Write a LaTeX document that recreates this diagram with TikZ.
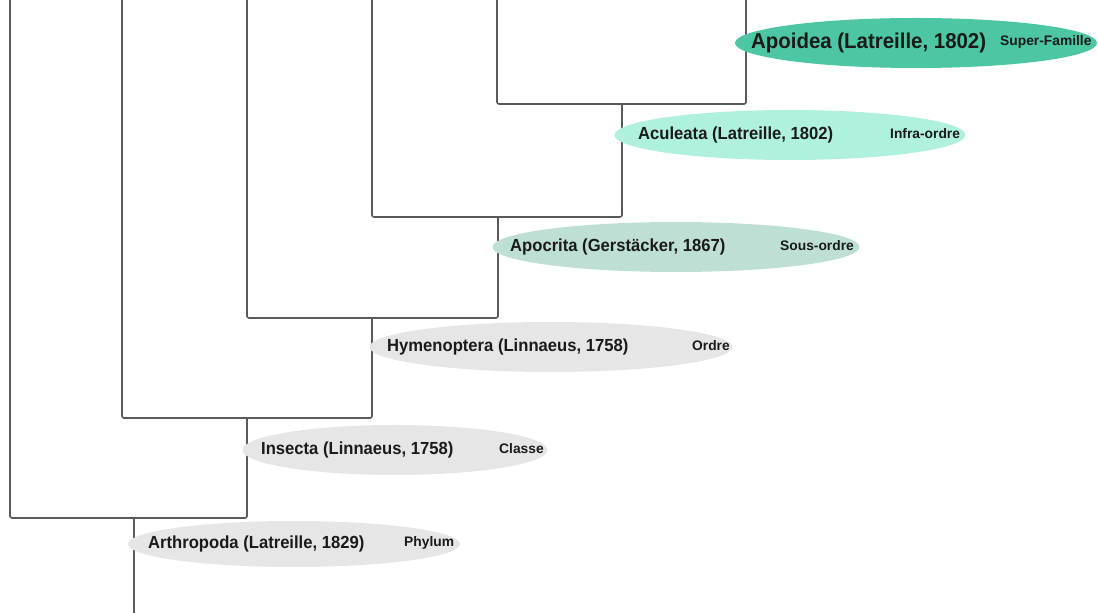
\documentclass[tikz,border=0pt]{standalone}
\usepackage{fontspec}
\setmainfont{Liberation Sans}
\newfontfamily\narrowsans[FakeStretch=0.95]{Liberation Sans}
\usetikzlibrary{shapes.geometric}
\definecolor{treeline}{HTML}{5A5A5A}
\definecolor{cSuper}{HTML}{4CC6A3}
\definecolor{cInfra}{HTML}{B0F0DE}
\definecolor{cSous}{HTML}{BEE0D4}
\definecolor{cGrey}{HTML}{E6E6E6}
\definecolor{txt}{HTML}{1A1A1A}
\tikzset{
  treeline/.style={draw=treeline, line width=1.6pt, rounded corners=2pt},
  taxonblob/.style={ellipse, draw=none, inner sep=0pt, minimum height=50pt},
  taxname/.style={anchor=west, inner sep=0pt, text=txt, font=\narrowsans\bfseries\fontsize{17.5}{21}\selectfont},
  bigtaxname/.style={anchor=west, inner sep=0pt, text=txt, font=\narrowsans\bfseries\fontsize{21.5}{26}\selectfont},
  rankname/.style={anchor=west, inner sep=0pt, text=txt, font=\bfseries\fontsize{13.8}{16}\selectfont},
}
\begin{document}
\begin{tikzpicture}[x=1pt,y=1pt]
\useasboundingbox (0,0) rectangle (1098,613);
% tree coordinates
\coordinate (t0) at (10,613);
\coordinate (t1) at (122,613);
\coordinate (t2) at (247,613);
\coordinate (t3) at (372,613);
\coordinate (t4) at (497,613);
\coordinate (t5) at (746,613);
\coordinate (root) at (134,0);
\coordinate (j1) at (134,95);
\coordinate (j2) at (247,195);
\coordinate (j3) at (372,295);
\coordinate (j4) at (498,396);
\coordinate (j5) at (622,509);
% tree lines
\draw[treeline] (t0) |- (247,95) -- (j2);
\draw[treeline] (j1) -- (root);
\draw[treeline] (t1) |- (372,195) -- (j3);
\draw[treeline] (t2) |- (498,295) -- (j4);
\draw[treeline] (t3) |- (622,396) -- (j5);
\draw[treeline] (t4) |- (746,509) -- (t5);
% taxa
\node[taxonblob, fill=cSuper, minimum width=362pt] (apoidea) at (916,570) {};
\node[taxonblob, fill=cInfra, minimum width=351pt] (aculeata) at (790,478) {};
\node[taxonblob, fill=cSous, minimum width=367pt] (apocrita) at (676,366) {};
\node[taxonblob, fill=cGrey, minimum width=363pt] (hymeno) at (551,266) {};
\node[taxonblob, fill=cGrey, minimum width=305pt] (insecta) at (395,163) {};
\node[taxonblob, fill=cGrey, minimum width=332pt, minimum height=46pt] (arthro) at (294,69) {};
% labels
\node[bigtaxname] (apoideaN) at (751,570) {Apoidea (Latreille, 1802)};
\node[rankname] (apoideaR) at (1000,571) {Super-Famille};
\node[taxname] (aculeataN) at (638,478) {Aculeata (Latreille, 1802)};
\node[rankname] (aculeataR) at (890,479) {Infra-ordre};
\node[taxname] (apocritaN) at (510,366) {Apocrita (Gerstäcker, 1867)};
\node[rankname] (apocritaR) at (780,367) {Sous-ordre};
\node[taxname] (hymenoN) at (387,266) {Hymenoptera (Linnaeus, 1758)};
\node[rankname] (hymenoR) at (692,267) {Ordre};
\node[taxname] (insectaN) at (261,163) {Insecta (Linnaeus, 1758)};
\node[rankname] (insectaR) at (499,164) {Classe};
\node[taxname] (arthroN) at (148,69) {Arthropoda (Latreille, 1829)};
\node[rankname] (arthroR) at (404,70) {Phylum};
\end{tikzpicture}
\end{document}
